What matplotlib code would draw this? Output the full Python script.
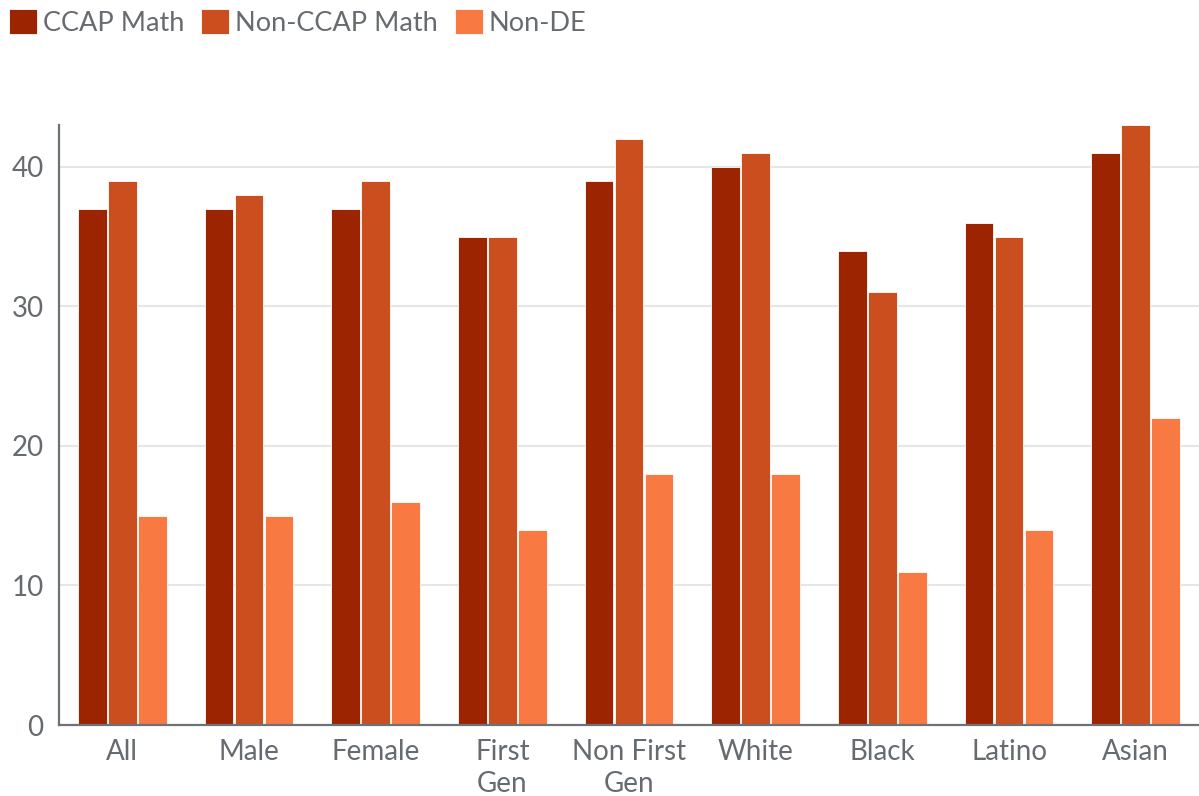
import matplotlib
matplotlib.use("Agg")
import matplotlib.pyplot as plt
import numpy as np

categories = ["All", "Male", "Female", "First\nGen", "Non First\nGen",
              "White", "Black", "Latino", "Asian"]
ccap_math = [37, 37, 37, 35, 39, 40, 34, 36, 41]
non_ccap_math = [39, 38, 39, 35, 42, 41, 31, 35, 43]
non_de = [15, 15, 16, 14, 18, 18, 11, 14, 22]

series = [
    ("CCAP Math", ccap_math, "#9C2400"),
    ("Non-CCAP Math", non_ccap_math, "#CB4E1E"),
    ("Non-DE", non_de, "#F97942"),
]

plt.rcParams["font.family"] = ["Lato", "DejaVu Sans"]
text_color = "#666B70"
axis_color = "#6D7278"

fig = plt.figure(figsize=(11.99, 7.96), dpi=100)
ax = fig.add_axes([59 / 1199, 71 / 796, 1 - 59 / 1199, 600 / 796])

x = np.arange(len(categories))
step = 0.237
width = 0.225
for i, (name, vals, color) in enumerate(series):
    ax.bar(x + (i - 1) * step, vals, width=width, color=color,
           edgecolor="white", linewidth=0.6, label=name, zorder=3)

ax.set_xlim(-0.5, len(categories) - 0.5)
ax.set_ylim(0, 43)
ax.set_yticks([0, 10, 20, 30, 40])
ax.set_xticks(x)
ax.set_xticklabels(categories, linespacing=1.3)

ax.grid(axis="y", color="#E6E6E6", linewidth=1.5, zorder=0)
ax.set_axisbelow(True)
for s in ["top", "right"]:
    ax.spines[s].set_visible(False)
for s in ["left", "bottom"]:
    ax.spines[s].set_color(axis_color)
    ax.spines[s].set_linewidth(1.6)
    ax.spines[s].set_zorder(4)

ax.tick_params(axis="both", length=0, labelsize=20, colors=text_color)
ax.tick_params(axis="x", pad=10)
ax.tick_params(axis="y", pad=11)

fig.legend(loc="upper left", bbox_to_anchor=(0.0, 1.0), ncol=3,
           frameon=False, fontsize=19.5, labelcolor=text_color,
           handlelength=1.03, handleheight=1.0, handletextpad=0.22,
           columnspacing=0.62, borderaxespad=0.15, borderpad=0.2)

fig.savefig("out.png", dpi=100)
